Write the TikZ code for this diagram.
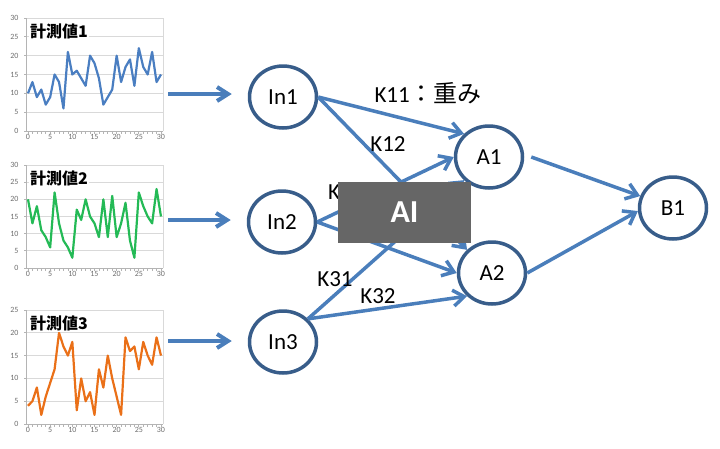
\documentclass[tikz,border=0pt]{standalone}
\usepackage{fontspec}
\setmainfont{Carlito}
\newfontfamily\cjk{Noto Sans CJK JP}
\usepackage{xcolor}
\usepackage{tikz}
\usetikzlibrary{shapes,arrows,positioning,calc,arrows.meta}

\definecolor{linkblue}{RGB}{74,126,187}
\definecolor{nodeblue}{RGB}{56,93,138}
\definecolor{gridgray}{RGB}{217,217,217}
\definecolor{axisgray}{RGB}{180,180,180}
\definecolor{ticktext}{RGB}{110,110,110}
\definecolor{plotblue}{RGB}{74,126,193}
\definecolor{plotgreen}{RGB}{36,186,86}
\definecolor{plotorange}{RGB}{234,112,24}
\definecolor{boxgray}{RGB}{102,102,102}

\begin{document}
\begin{tikzpicture}[
    x=1pt, y=-1pt,
    neuron/.style={draw=nodeblue, line width=3.5pt, ellipse, minimum width=67pt, minimum height=62pt, inner sep=0pt, font=\fontsize{23}{26}\selectfont},
    link/.style={draw=linkblue, line width=3.5pt, -{Straight Barb[length=11pt,width=16pt]}},
    feed/.style={draw=linkblue, line width=4pt, -{Straight Barb[length=11pt,width=14pt]}, shorten >=16pt},
    weight/.style={font=\fontsize{23}{26}\selectfont},
    gridline/.style={draw=gridgray, line width=0.7pt},
    axisline/.style={draw=axisgray, line width=0.7pt},
    ticklbl/.style={font=\fontsize{8}{9}\selectfont, text=ticktext, inner sep=1pt},
    chartname/.style={font=\cjk\bfseries\fontsize{16}{18}\selectfont, fill=white, inner sep=1pt}
]
    \useasboundingbox (0,0) rectangle (720,448);

    % Input layer
    \node [neuron] (In1) at (283,97) {In1};
    \node [neuron] (In2) at (282,222) {In2};
    \node [neuron] (In3) at (283,342) {In3};
    % Hidden layer
    \node [neuron] (A1) at (489,157) {A1};
    \node [neuron] (A2) at (492,273) {A2};
    % Output
    \node [neuron] (B1) at (673,208) {B1};

    % Measurement charts
    \foreach \n/\ytop/\ybot/\ymax/\yout/\col/\first/\rest in {
        1/18/131/30/94/plotblue/10/{13,9,11,7,9,15,13,6,21,15,16,14,12,20,18,14,7,9,11,20,13,17,19,12,22,17,15,21,13,15},
        2/165/268/30/220/plotgreen/20/{13,18,11,9,6,22,13,8,6,3,17,14,20,15,13,9,20,9,21,9,13,19,8,3,22,18,15,13,23,15},
        3/310/424/25/341/plotorange/4/{5,8,2,6,9,12,20,17,15,18,3,10,5,7,2,12,8,15,10,6,2,19,16,17,12,18,15,13,19,15}} {
        \pgfmathsetmacro{\yunit}{(\ybot-\ytop)/\ymax}
        \begin{scope}[shift={(28,\ybot)}, x=4.433pt, y=\yunit pt]
            \foreach \v in {5,10,...,\ymax} {
                \draw [gridline] (-0.45,\v) -- (30.45,\v);
            }
            \foreach \v in {0,5,...,\ymax} {
                \draw [axisline] (-0.45,\v) -- ++(-2.5pt,0pt);
                \node [ticklbl, anchor=east] at (-1.9,\v) {\v};
            }
            \draw [axisline] (-0.45,\ymax) -- (-0.45,0) -- (30.45,0);
            \draw [gridline] (30.45,0) -- (30.45,\ymax);
            \foreach \t in {0,...,30} {
                \draw [axisline] (\t,0) -- ++(0pt,-2.5pt);
            }
            \foreach \t in {0,5,...,30} {
                \node [ticklbl, anchor=north, yshift=-2pt] at (\t,0) {\t};
            }
            \draw [\col, line width=2.2pt, line join=round] (0,\first) \foreach \v [count=\i] in \rest { -- (\i,\v) };
        \end{scope}
        \node [chartname, anchor=west] (title\n) at (29,\ytop+13) {計測値\n};
        \coordinate (out\n) at (168,\yout);
        \draw [feed] (out\n) -- (out\n -| In\n.west);
    }

    % Weighted links
    \draw [link] (In1.east) -- (A1.north west);
    \draw [link] (In1.east) -- (A2.north west);
    \draw [link] (In2.east) -- (A1.west);
    \draw [link] (In2.east) -- (A2.west);
    \draw [link] (In3.north east) -- (A1.south west);
    \draw [link] (In3.north east) -- (A2.south west);
    \draw [link] ([xshift=7pt]A1.east) -- (B1.160);
    \draw [link] (A2.east) -- (B1.185);

    % Weight labels
    \node [weight, anchor=west] (w11) at (371,93) {K11{\cjk\fontsize{24}{26}\selectfont ：重み}};
    \node [weight] (w12) at (388,144) {K12};
    \node [weight, anchor=west, inner sep=0pt] (w21) at (328,192) {K};
    \node [weight] (w31) at (335,279) {K31};
    \node [weight] (w32) at (378,296) {K32};

    % AI box on top
    \node [fill=boxgray, minimum width=133pt, minimum height=61pt, text=white, font=\bfseries\fontsize{32}{34}\selectfont] (ai) at (404.5,212.5) {AI};
\end{tikzpicture}
\end{document}
